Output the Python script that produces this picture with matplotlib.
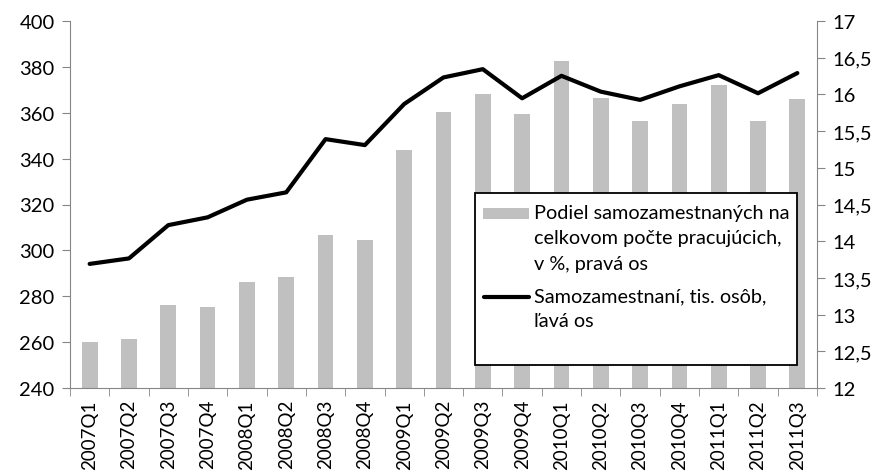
import numpy as np
import matplotlib
matplotlib.use("Agg")
import matplotlib.pyplot as plt
from matplotlib.patches import Rectangle
from matplotlib.lines import Line2D
from matplotlib.ticker import FuncFormatter

plt.rcParams['font.family'] = ['Lato', 'DejaVu Sans']

quarters = ['2007Q1', '2007Q2', '2007Q3', '2007Q4', '2008Q1', '2008Q2',
            '2008Q3', '2008Q4', '2009Q1', '2009Q2', '2009Q3', '2009Q4',
            '2010Q1', '2010Q2', '2010Q3', '2010Q4', '2011Q1', '2011Q2',
            '2011Q3']

# share of self-employed in total employment, % (right axis)
share_pct = [12.63, 12.67, 13.13, 13.10, 13.45, 13.51, 14.08, 14.02, 15.24,
             15.76, 16.00, 15.73, 16.46, 15.95, 15.64, 15.87, 16.13, 15.64,
             15.94]

# self-employed, thousands (left axis)
self_employed = [294.1, 296.5, 311.0, 314.4, 322.1, 325.3, 348.5, 345.9,
                 363.8, 375.4, 379.0, 366.3, 376.1, 369.2, 365.6, 371.5,
                 376.4, 368.5, 377.3]

label_bars = 'Podiel samozamestnaných na\ncelkovom počte pracujúcich,\nv %, pravá os'
label_line = 'Samozamestnaní, tis. osôb,\nľavá os'

x = np.arange(len(quarters))
spine_col = '#868686'
bar_col = '#c0c0c0'
fs = 14.5

W, H = 881, 477
L, R, T, B = 70, 817, 22, 389

fig = plt.figure(figsize=(W / 100, H / 100), dpi=100)
ax1 = fig.add_axes([L / W, 1 - B / H, (R - L) / W, (B - T) / H])
ax2 = ax1.twinx()

ax2.bar(x, share_pct, width=0.4, color=bar_col)
ax1.plot(x, self_employed, color='black', lw=3.0, solid_capstyle='round')

ax1.set_zorder(ax2.get_zorder() + 1)
ax1.patch.set_visible(False)

ax1.set_xlim(-0.5, len(quarters) - 0.5)
ax1.set_ylim(240, 400)
ax1.set_yticks(np.arange(240, 401, 20))
ax2.set_ylim(12, 17)
ax2.set_yticks(np.arange(12, 17.01, 0.5))
ax2.yaxis.set_major_formatter(FuncFormatter(
    lambda v, p: ('%g' % v).replace('.', ',')))

ax1.set_xticks(x)
ax1.set_xticklabels(quarters, rotation=90, fontsize=13.5)
ax1.set_xticks(np.arange(-0.5, len(quarters), 1), minor=True)
ax1.tick_params(axis='x', which='major', length=0, pad=8)
ax1.tick_params(axis='x', which='minor', length=6, color=spine_col,
                direction='out')

for ax in (ax1, ax2):
    for s in ax.spines.values():
        s.set_color(spine_col)
    ax.spines['top'].set_visible(False)
    ax.tick_params(axis='y', length=6, color=spine_col, labelsize=fs,
                   direction='out', pad=5)

ax1.spines['right'].set_visible(False)
ax2.spines['left'].set_visible(False)
ax2.spines['bottom'].set_visible(False)


def ax_xy(px, py):
    # pixel position in the picture -> axes fraction
    return (px - L) / (R - L), (B - py) / (B - T)


# legend, laid out like the spreadsheet one
lx0, ly0 = ax_xy(475, 366)
lx1, ly1 = ax_xy(797, 194)
ax1.add_patch(Rectangle((lx0, ly0), lx1 - lx0, ly1 - ly0,
                        transform=ax1.transAxes, facecolor='white',
                        edgecolor='black', lw=1.3, zorder=4))
hx0, hy0 = ax_xy(483, 220)
hx1, hy1 = ax_xy(529, 209)
ax1.add_patch(Rectangle((hx0, hy0), hx1 - hx0, hy1 - hy0,
                        transform=ax1.transAxes, facecolor=bar_col,
                        edgecolor='none', zorder=5))
mx0, my = ax_xy(484, 298)
mx1, _ = ax_xy(529, 298)
ax1.add_line(Line2D([mx0, mx1], [my, my], transform=ax1.transAxes,
                    color='black', lw=3.0, solid_capstyle='round', zorder=5))
tx, ty = ax_xy(534, 205)
ax1.text(tx, ty, label_bars, transform=ax1.transAxes, fontsize=14.3,
         va='top', ha='left', linespacing=1.6, zorder=6)
_, ty2 = ax_xy(534, 288)
ax1.text(tx, ty2, label_line, transform=ax1.transAxes, fontsize=14.3,
         va='top', ha='left', linespacing=1.6, zorder=6)

fig.savefig('out.png', dpi=100)
